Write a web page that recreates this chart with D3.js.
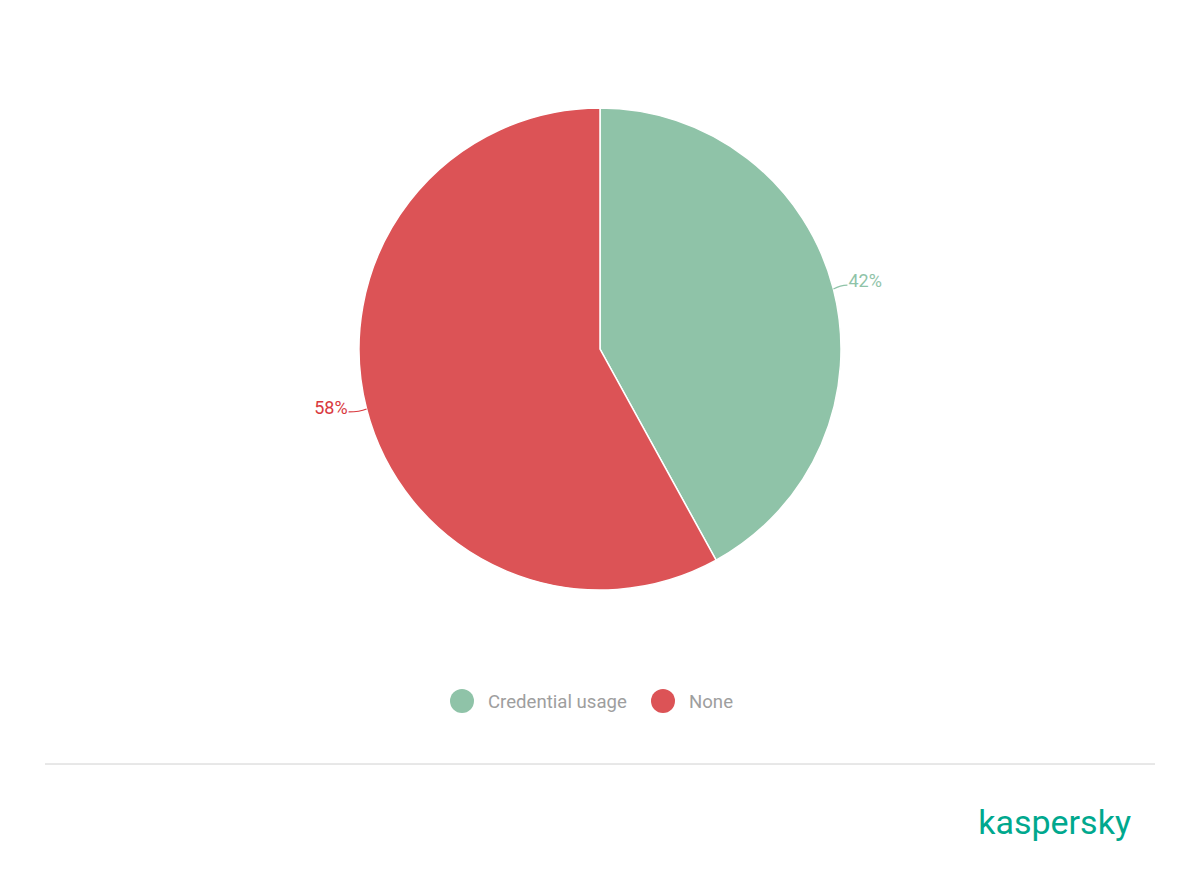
<!DOCTYPE html>
<html><head><meta charset="utf-8">
<script src="https://cdn.jsdelivr.net/npm/d3@7"></script>
<style>body{margin:0;background:#fff}</style></head>
<body><svg id="c" width="1200" height="886"></svg>
<script>
const categories = ["Credential usage", "None"];
const values = [42, 58];
const colors = ["#8fc3a8", "#dc5356"];
const labelColors = ["#8fc3a8", "#d9393e"];

const svg = d3.select("#c");
const cx = 600, cy = 349, r = 241;
const g = svg.append("g").attr("transform", `translate(${cx},${cy})`);
const pie = d3.pie().sort(null).value(d => d)(values);
const arc = d3.arc().innerRadius(0).outerRadius(r);
g.selectAll("path").data(pie).join("path")
  .attr("d", arc).attr("fill", (d, i) => colors[i])
  .attr("stroke", "#fff").attr("stroke-width", 1.5);

pie.forEach((d, i) => {
  const a = (d.startAngle + d.endAngle) / 2;
  const x0 = Math.sin(a) * r, y0 = -Math.cos(a) * r;
  const side = Math.sin(a) >= 0 ? 1 : -1;
  const x1 = x0 + side * (side > 0 ? 14 : 18), y1 = y0 + (side > 0 ? -4 : 3);
  g.append("path").attr("d", `M${x0},${y0}Q${x0 + side * 7},${y1} ${x1},${y1}`)
    .attr("fill", "none").attr("stroke", labelColors[i]).attr("stroke-width", 1.2);
  g.append("text").attr("x", x1 + side * 1).attr("y", y1 + 2)
    .attr("text-anchor", side > 0 ? "start" : "end")
    .attr("font-family", "Roboto").attr("font-size", 18)
    .attr("fill", labelColors[i]).text(d.data + "%");
});

const leg = [{x: 462}, {x: 663}];
categories.forEach((c, i) => {
  svg.append("circle").attr("cx", leg[i].x).attr("cy", 701).attr("r", 12).attr("fill", colors[i]);
  svg.append("text").attr("x", leg[i].x + 26).attr("y", 707.5)
    .attr("font-family", "Roboto").attr("font-size", 18.6).attr("fill", "#9e9e9e").text(c);
});

svg.append("line").attr("x1", 45).attr("x2", 1155).attr("y1", 764).attr("y2", 764)
  .attr("stroke", "#d0d0d0").attr("stroke-width", 1);
svg.append("text").attr("x", 1131).attr("y", 834).attr("text-anchor", "end")
  .attr("font-family", "Roboto").attr("font-size", 34).attr("font-weight", 400)
  .attr("fill", "#00a88e").text("kaspersky");
</script></body></html>
